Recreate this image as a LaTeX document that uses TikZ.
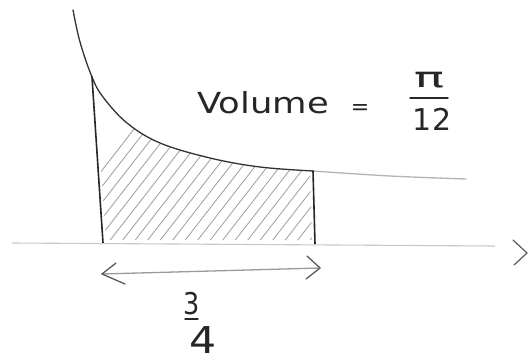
\documentclass[tikz,border=0pt]{standalone}
\usepackage{fontspec}
\setmainfont{DejaVu Sans}
\usetikzlibrary{calc}
\definecolor{ink}{HTML}{262626}
\definecolor{curveink}{HTML}{333333}
\definecolor{faint}{HTML}{B4B4B4}
\definecolor{hatchc}{HTML}{9E9E9E}
\definecolor{axisc}{HTML}{C8C8C8}
\definecolor{dimc}{HTML}{9A9A9A}
\definecolor{dimheadc}{HTML}{5A5A5A}
\begin{document}
\begin{tikzpicture}[x=1pt,y=-1pt,
  curve/.style={draw=curveink, line width=1.3pt, line cap=round},
  curvefaint/.style={draw=faint, line width=1.3pt, line cap=round},
  edge/.style={draw=ink, line width=1.6pt, line cap=round},
  hatch/.style={draw=hatchc, line width=0.8pt},
  axis/.style={draw=axisc, line width=1.1pt},
  axishead/.style={draw=dimheadc, line width=1.2pt, line cap=round, line join=round},
  dim/.style={draw=dimc, line width=1.3pt, line cap=round},
  dimhead/.style={draw=dimheadc, line width=1.3pt, line cap=round, line join=round},
  lbl/.style={inner sep=0pt, text=ink},
  fracbar/.style={draw=ink, line width=1.4pt, line cap=round}]
\useasboundingbox[fill=white] (0,0) rectangle (529,361);

% hatching
\begin{scope}
  \clip plot[smooth,tension=0.6] coordinates {(95,82) (103,97) (127,123) (160,143) (210,158) (260,167) (310,172)} -- (312,240) -- (106,240) -- cycle;
  \foreach \i in {0,...,28} \draw[hatch] (40+12.5*\i,250) -- ++(140,-180);
\end{scope}

% curve
\draw[curve] plot[smooth,tension=0.6] coordinates {(73,10) (80,42) (92,77) (103,97) (127,123) (160,143) (210,158) (260,167) (313,171)};
\draw[curvefaint] plot[smooth,tension=0.6] coordinates {(313,171) (390,176) (466,179)};

% vertical boundaries
\coordinate (lt) at (92,77);
\coordinate (lb) at (103,243);
\coordinate (rt) at (313,171);
\coordinate (rb) at (315,244);
\draw[edge] (lt) -- (lb);
\draw[edge] (rt) -- (rb);

% x-axis
\coordinate (ax0) at (12,243);
\coordinate (ax1) at (495,246);
\coordinate (axtip) at (527,253);
\draw[axis] (ax0) -- (ax1);
\draw[axishead] ($(axtip)+(-14,-13)$) -- (axtip) -- ($(axtip)+(-13,12)$);

% width arrow
\coordinate (dl) at (102,274);
\coordinate (dr) at (320,268);
\draw[dim] (dl) -- (dr);
\draw[dimhead] ($(dl)+(14,-11)$) -- (dl) -- ($(dl)+(23,10)$);
\draw[dimhead] ($(dr)+(-13,-12)$) -- (dr) -- ($(dr)+(-14,11)$);

% labels
\node[lbl, anchor=base west] (vol) at (197,113) {\fontsize{29}{30}\selectfont\scalebox{1.22}[1]{Volume}};
\node[lbl] (eq) at (360,110) {\fontsize{22}{22}\selectfont =};
\node[lbl] (pinum) at (429,80) {\fontsize{28}{28}\selectfont\scalebox{1.8}[1]{π}};
\draw[fracbar] (410,98) -- (448,98);
\node[lbl] (twelve) at (432,119) {\fontsize{30}{30}\selectfont 12};

\node[lbl] (three) at (191.5,304) {\fontsize{30}{30}\selectfont\scalebox{0.85}[1]{3}};
\draw[fracbar] (185,319) -- (198,319);
\node[lbl] (four) at (203,340) {\fontsize{37}{37}\selectfont\scalebox{1.15}[1]{4}};
\end{tikzpicture}
\end{document}
